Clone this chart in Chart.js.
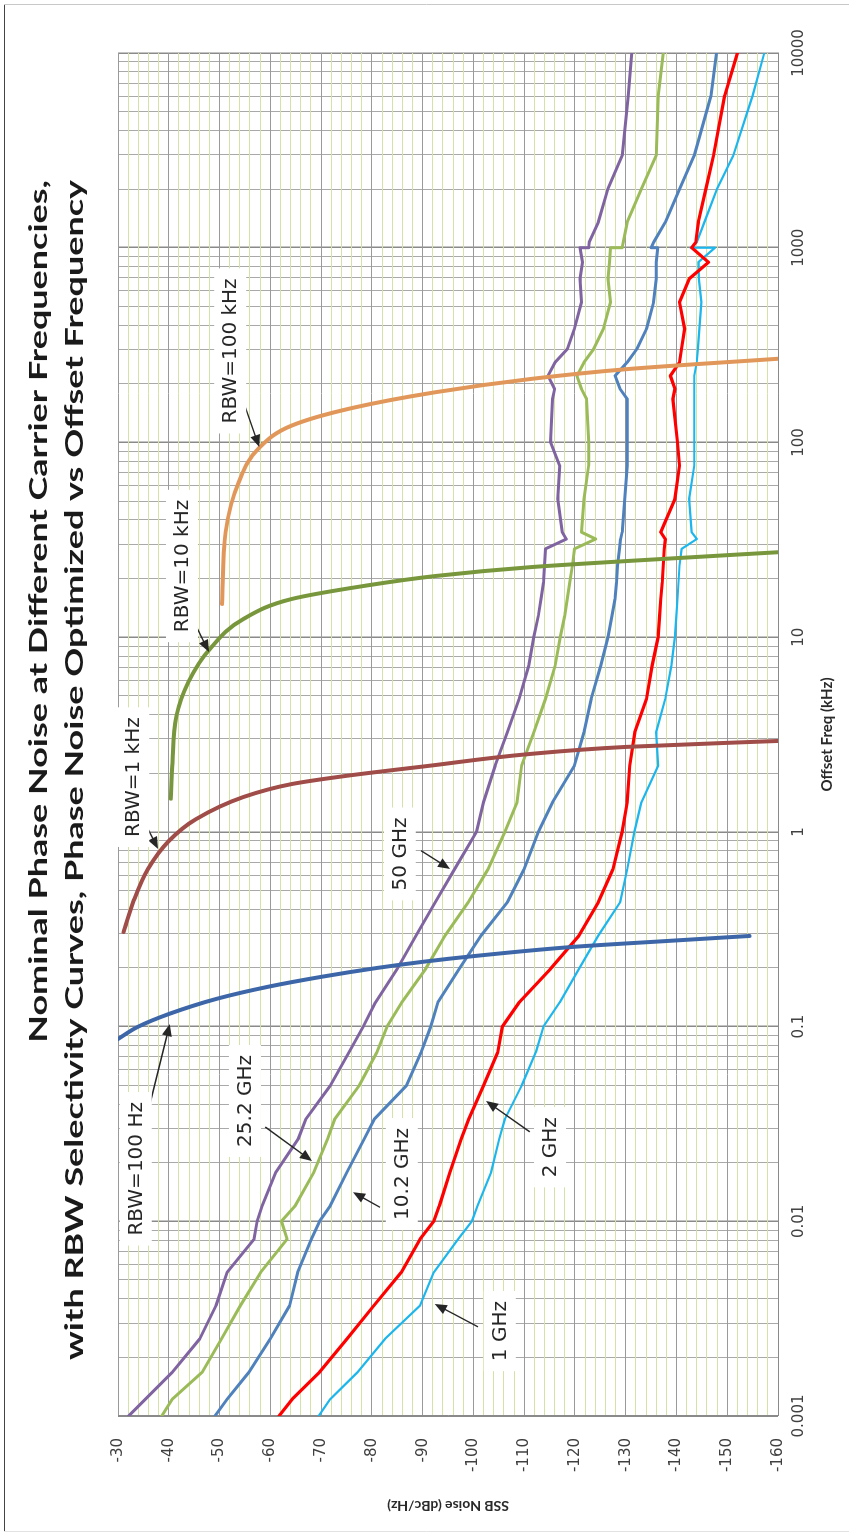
<!DOCTYPE html>
<html>
<head>
<meta charset="utf-8">
<title>Nominal Phase Noise vs Offset Frequency</title>
<script src="https://cdn.jsdelivr.net/npm/chart.js@4.4.1/dist/chart.umd.min.js"></script>
<style>
  html, body { margin: 0; padding: 0; background: #fff; }
  body { width: 849px; height: 1536px; overflow: hidden; position: relative; }
  /* The chart is laid out landscape and then turned a quarter turn
     counter-clockwise, which is how the reference page is printed. */
  #sheet {
    position: absolute; left: 0; top: 0;
    width: 1536px; height: 849px;
    transform-origin: 0 0;
    transform: translateY(1536px) rotate(-90deg);
  }
  canvas { display: block; }
</style>
</head>
<body>
<div id="sheet"><canvas id="chart" width="1536" height="849"></canvas></div>
<script>
// ---- data ------------------------------------------------------------
// Offset frequency (kHz) shared by the five measured traces. 1000 appears
// twice: the traces jump sideways there where two sweeps were stitched.
const offsetFreq = [
  0.001, 0.00122, 0.00168, 0.00249, 0.00369, 0.00547, 0.0081, 0.01, 0.012, 0.0179,
  0.0265, 0.0335, 0.0497, 0.0738, 0.1, 0.133, 0.198, 0.293, 0.435, 0.644,
  1, 1.42, 2.19, 3.25, 4.82, 7.14, 10, 12.9, 15.7, 19.1,
  23.3, 28.4, 31.9, 34.6, 51.3, 76, 100, 167, 188, 220,
  258, 302, 383, 525, 692, 842, 1000, 1000, 1066, 1352,
  2004, 2972, 6040, 10000
];

// SSB noise (dBc/Hz) per carrier
const noise50GHz = [
  -32.1, -35.4, -40.7, -46.1, -49.3, -51.5, -56.8, -57.4, -58.4, -61.1,
  -65.5, -67.0, -71.8, -75.5, -78.3, -80.7, -85.0, -88.7, -92.5, -96.3,
  -100.6, -102.0, -104.3, -106.7, -109.0, -110.9, -111.9, -112.8, -113.3, -113.8,
  -114.0, -114.2, -118.3, -117.5, -116.6, -117.0, -115.2, -115.6, -116.0, -114.7,
  -116.1, -118.5, -119.9, -121.3, -121.0, -121.5, -121.0, -122.7, -122.8, -124.6,
  -126.5, -129.3, -130.5, -131.2
];
const noise25GHz = [
  -38.6, -40.7, -46.6, -50.4, -54.1, -58.1, -63.3, -62.2, -64.9, -68.6,
  -71.3, -72.7, -77.5, -81.0, -83.0, -85.9, -90.6, -94.4, -99.0, -102.9,
  -106.2, -108.6, -109.5, -111.9, -114.2, -116.1, -117.1, -118.0, -118.5, -119.0,
  -119.5, -119.9, -124.1, -121.3, -121.8, -122.7, -122.7, -122.3, -121.3, -120.4,
  -121.8, -123.7, -125.6, -127.0, -126.5, -126.8, -127.0, -129.3, -129.5, -130.3,
  -133.1, -136.0, -136.4, -137.4
];
const noise10GHz = [
  -49.1, -51.5, -55.8, -60.0, -63.8, -65.4, -68.1, -69.7, -71.8, -75.1,
  -78.5, -80.5, -86.8, -89.7, -91.6, -93.0, -97.2, -101.5, -106.7, -110.0,
  -112.8, -115.6, -119.9, -121.8, -123.2, -125.1, -126.5, -127.3, -127.9, -128.2,
  -128.4, -128.8, -129.0, -129.3, -129.8, -130.3, -130.3, -130.3, -128.9, -127.9,
  -130.3, -132.2, -134.1, -135.5, -136.0, -136.0, -136.3, -135.0, -135.5, -137.8,
  -140.6, -143.5, -146.8, -147.9
];
const noise2GHz = [
  -61.7, -64.3, -69.7, -75.1, -80.4, -85.8, -89.5, -92.2, -93.3, -95.4,
  -97.6, -99.1, -102.0, -104.8, -105.7, -109.0, -115.2, -120.8, -124.6, -127.5,
  -129.3, -130.3, -130.8, -131.8, -134.1, -135.2, -136.4, -136.7, -136.9, -137.2,
  -137.4, -137.6, -137.8, -136.9, -139.7, -140.6, -140.2, -139.3, -139.7, -138.8,
  -140.6, -141.0, -141.6, -140.6, -142.5, -146.3, -143.0, -143.0, -143.8, -144.3,
  -145.8, -147.3, -149.5, -152.0
];
const noise1GHz = [
  -69.5, -71.8, -77.2, -82.6, -89.5, -92.2, -97.0, -99.7, -100.8, -103.5,
  -105.1, -106.2, -109.5, -112.3, -113.8, -117.0, -120.8, -124.6, -128.9, -130.3,
  -131.7, -133.1, -136.4, -136.0, -137.8, -139.0, -139.7, -140.0, -140.2, -140.4,
  -140.6, -141.0, -144.0, -143.0, -142.5, -143.5, -143.5, -143.5, -143.5, -143.5,
  -144.0, -144.2, -144.5, -144.9, -144.4, -144.3, -147.6, -142.8, -144.0, -145.5,
  -148.0, -151.2, -155.0, -157.3
];

// RBW selectivity curves, each on its own frequency points
const rbw100HzFreq  = [0.0863, 0.1, 0.116, 0.139, 0.16, 0.18, 0.2, 0.215, 0.23, 0.257, 0.275, 0.292];
const rbw100HzNoise = [-30, -34, -40, -49.5, -59.5, -70, -81, -90, -100, -120, -138, -154.4];
const rbw1kHzFreq   = [0.306, 0.436, 0.645, 0.897, 1.16, 1.51, 1.76, 1.94, 2.18, 2.51, 2.73, 2.93];
const rbw1kHzNoise  = [-31.1, -33, -35.9, -40, -45.3, -54.7, -64.2, -75, -91, -111, -130, -160];
const rbw10kHzFreq  = [1.48, 2.18, 3.93, 5.9, 8.7, 12.4, 15.7, 18.3, 20.6, 22.9, 24.6, 27.3];
const rbw10kHzNoise = [-40.4, -40.7, -41.5, -43.9, -48.1, -54.7, -64.2, -78.3, -92.5, -111.4, -130.3, -160];
const rbw100kHzFreq  = [14.8, 34.7, 62.7, 92.6, 122, 150, 181, 212, 238, 269];
const rbw100kHzNoise = [-50.5, -51.2, -53.8, -57.6, -64.2, -76, -92.5, -111.4, -130.3, -160];

// axis ticks
const freqTicks = [0.001, 0.01, 0.1, 1, 10, 100, 1000, 10000];
const freqTickLabels = ['0.001', '0.01', '0.1', '1', '10', '100', '1000', '10000'];
const noiseTicks = [-30, -40, -50, -60, -70, -80, -90, -100, -110, -120, -130, -140, -150, -160];

const titleLines = [
  'Nominal Phase Noise at Different Carrier Frequencies,',
  'with RBW Selectivity Curves, Phase Noise Optimized vs Offset Frequency',
];

// Callouts: label centre, arrow tail and arrow head, in (kHz, dBc/Hz)
const calloutText = ['RBW=100 Hz', 'RBW=1 kHz', 'RBW=10 kHz', 'RBW=100 kHz',
  '50 GHz', '25.2 GHz', '10.2 GHz', '2 GHz', '1 GHz'];
const calloutAt = [[0.0186, -33.5], [1.91, -33], [23.2, -42.6], [295, -52.1],
  [0.77, -85.5], [0.0415, -55], [0.0175, -85.9], [0.024, -115.1], [0.00273, -105.2]];
const calloutTail = [[0.0365, -35.9], [1.15, -35], [13.5, -44], [154, -55],
  [0.8, -89.7], [0.0305, -59], [0.0118, -81.6], [0.0288, -111.1], [0.00287, -100.9]];
const calloutHead = [[0.103, -40.2], [0.817, -37.9], [8.39, -47.9], [94.8, -57.8],
  [0.645, -95.4], [0.0204, -68.2], [0.0141, -76.3], [0.0415, -102.5], [0.00376, -92.4]];

// ---- chart --------------------------------------------------------------
const pts = (xs, ys) => xs.map((x, i) => ({ x, y: ys[i] }));
const isDecade = (v) => freqTicks.some((t) => Math.abs(t - v) < t * 1e-6);

function trace(label, freq, noise, color, width, smooth) {
  return {
    label,
    data: pts(freq, noise),
    showLine: true,
    borderColor: color,
    backgroundColor: color,
    borderWidth: width,
    pointRadius: 0,
    fill: false,
    borderJoinStyle: 'round',
    borderCapStyle: 'round',
    cubicInterpolationMode: smooth ? 'monotone' : 'default',
    tension: 0,
  };
}

// white page with the scan's thin frame
const paperPlugin = {
  id: 'paper',
  beforeDraw(chart) {
    const { ctx, width, height } = chart;
    ctx.save();
    ctx.fillStyle = '#fff';
    ctx.fillRect(0, 0, width, height);
    ctx.lineWidth = 1;
    ctx.strokeStyle = '#444';
    ctx.beginPath(); ctx.moveTo(4, 4.5); ctx.lineTo(1532, 4.5); ctx.stroke();
    ctx.strokeStyle = '#c8c8c8';
    ctx.beginPath(); ctx.moveTo(1531.5, 4); ctx.lineTo(1531.5, height); ctx.stroke();
    ctx.strokeStyle = '#e2e2e2';
    ctx.beginPath(); ctx.moveTo(4.5, 4); ctx.lineTo(4.5, height); ctx.stroke();
    ctx.restore();
  },
};

// two-line bold title, right edges lined up as in the original
const titlePlugin = {
  id: 'pageTitle',
  afterDraw(chart) {
    const ctx = chart.ctx;
    ctx.save();
    ctx.font = 'bold 24px Lato';
    const stretch = 1180 / ctx.measureText(titleLines[1]).width;
    ctx.fillStyle = '#1a1a1a';
    ctx.textAlign = 'right';
    ctx.textBaseline = 'alphabetic';
    [47, 83].forEach((baseY, i) => {
      ctx.save();
      ctx.translate(1356, baseY);
      ctx.scale(stretch, 1);
      ctx.fillText(titleLines[i], 0, 0);
      ctx.restore();
    });
    ctx.restore();
  },
};

// text callouts with arrows pointing at the curves
const calloutPlugin = {
  id: 'callouts',
  afterDatasetsDraw(chart) {
    const { ctx, scales: { x, y } } = chart;
    ctx.save();
    ctx.strokeStyle = '#262626';
    ctx.fillStyle = '#262626';
    ctx.lineWidth = 1.4;
    calloutText.forEach((_, i) => {
      const tx = x.getPixelForValue(calloutTail[i][0]);
      const ty = y.getPixelForValue(calloutTail[i][1]);
      const hx = x.getPixelForValue(calloutHead[i][0]);
      const hy = y.getPixelForValue(calloutHead[i][1]);
      const a = Math.atan2(hy - ty, hx - tx);
      const len = 12, half = 5;
      ctx.beginPath();
      ctx.moveTo(tx, ty);
      ctx.lineTo(hx - Math.cos(a) * len * 0.7, hy - Math.sin(a) * len * 0.7);
      ctx.stroke();
      ctx.beginPath();
      ctx.moveTo(hx, hy);
      ctx.lineTo(hx - len * Math.cos(a) + half * Math.sin(a), hy - len * Math.sin(a) - half * Math.cos(a));
      ctx.lineTo(hx - len * Math.cos(a) - half * Math.sin(a), hy - len * Math.sin(a) + half * Math.cos(a));
      ctx.closePath();
      ctx.fill();
    });
    ctx.font = '20px "DejaVu Sans"';
    ctx.textAlign = 'center';
    ctx.textBaseline = 'middle';
    calloutText.forEach((text, i) => {
      const cx = x.getPixelForValue(calloutAt[i][0]);
      const cy = y.getPixelForValue(calloutAt[i][1]);
      const w = ctx.measureText(text).width;
      ctx.fillStyle = '#fff';
      ctx.fillRect(cx - w / 2 - 10, cy - 16, w + 20, 32);
      ctx.fillStyle = '#262626';
      ctx.fillText(text, cx, cy + 1);
    });
    ctx.restore();
  },
};

new Chart(document.getElementById('chart'), {
  type: 'scatter',
  plugins: [paperPlugin, calloutPlugin, titlePlugin],
  data: {
    datasets: [
      // selectivity curves first so they sit on top of the traces
      trace('RBW=100 Hz', rbw100HzFreq, rbw100HzNoise, '#3d66a8', 4, true),
      trace('RBW=1 kHz', rbw1kHzFreq, rbw1kHzNoise, '#a04c48', 4, true),
      trace('RBW=10 kHz', rbw10kHzFreq, rbw10kHzNoise, '#78963c', 4, true),
      trace('RBW=100 kHz', rbw100kHzFreq, rbw100kHzNoise, '#e2975a', 4, true),
      trace('50 GHz', offsetFreq, noise50GHz, '#8064a2', 3, false),
      trace('25.2 GHz', offsetFreq, noise25GHz, '#9bbb59', 3, false),
      trace('10.2 GHz', offsetFreq, noise10GHz, '#4f81bd', 3, false),
      trace('2 GHz', offsetFreq, noise2GHz, '#ff0000', 3.2, false),
      trace('1 GHz', offsetFreq, noise1GHz, '#1db6ec', 2.2, false),
    ],
  },
  options: {
    responsive: false,
    animation: false,
    layout: { padding: { top: 118, right: 53, bottom: 0, left: 0 } },
    scales: {
      x: {
        type: 'logarithmic',
        position: 'bottom',
        min: 0.001,
        max: 10000,
        // decades plus the 2..9 minors, labels only on decades
        afterBuildTicks: (scale) => {
          const ticks = [];
          freqTicks.forEach((d) => {
            for (let m = 1; m <= 9; m++) {
              if (m * d <= 10000 * 1.000001) ticks.push({ value: m * d });
            }
          });
          scale.ticks = ticks;
        },
        afterFit: (scale) => { scale.height = 71; },
        ticks: {
          autoSkip: false,
          maxRotation: 0,
          padding: 12,
          color: '#404040',
          font: { family: 'DejaVu Sans', size: 15 },
          callback: (value) => {
            const i = freqTicks.findIndex((t) => Math.abs(t - value) < t * 1e-6);
            return i >= 0 ? freqTickLabels[i] : '';
          },
        },
        grid: {
          drawTicks: false,
          color: (c) => (c.tick && isDecade(c.tick.value) ? '#8a8a8a' : '#a9a9a9'),
          lineWidth: (c) => (c.tick && isDecade(c.tick.value) ? 1.5 : 1),
        },
        border: { color: '#8a8a8a' },
        title: {
          display: true,
          text: 'Offset Freq (kHz)',
          color: '#2a2a2a',
          font: { family: 'Lato', size: 15, weight: 'bold' },
          padding: { top: 0, bottom: 13 },
        },
      },
      y: {
        type: 'linear',
        min: -160,
        max: -30,
        afterBuildTicks: (scale) => {
          const ticks = [];
          for (let v = -160; v <= -30; v += 2) ticks.push({ value: v });
          scale.ticks = ticks;
        },
        afterFit: (scale) => { scale.width = 120; },
        ticks: {
          autoSkip: false,
          padding: 22,
          color: '#404040',
          font: { family: 'DejaVu Sans', size: 15 },
          callback: (value) => (noiseTicks.includes(value) ? String(value) : ''),
        },
        grid: {
          drawTicks: false,
          color: (c) => (c.tick && noiseTicks.includes(c.tick.value) ? '#9a9a9a' : '#d3e3a6'),
          lineWidth: 1,
        },
        border: { color: '#8a8a8a' },
        title: {
          display: true,
          text: 'SSB Noise (dBc/Hz)',
          color: '#2a2a2a',
          font: { family: 'Lato', size: 14, weight: 'bold' },
          padding: { top: 22, bottom: 0 },
        },
      },
    },
    plugins: {
      legend: { display: false },
      tooltip: { enabled: false },
      title: { display: false },
    },
  },
});
</script>
</body>
</html>
